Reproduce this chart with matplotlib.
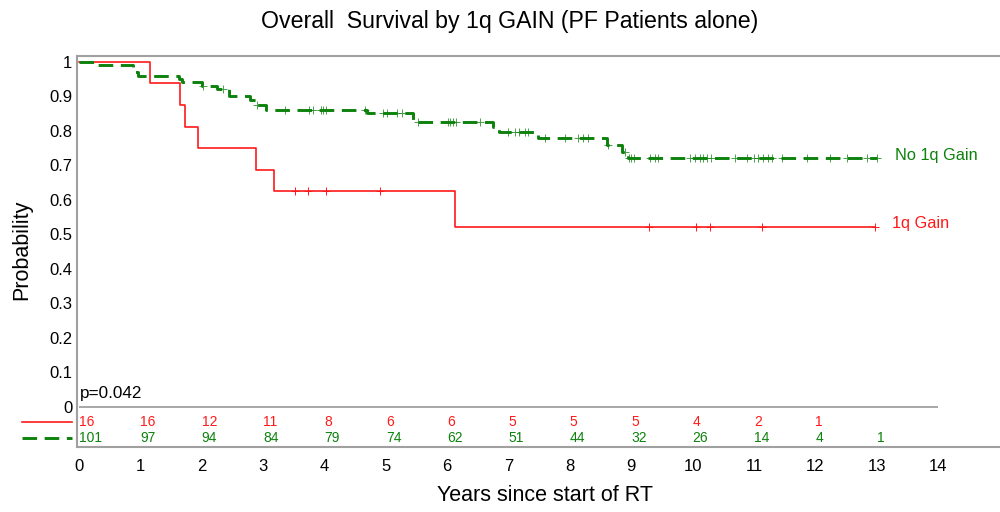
import numpy as np
import matplotlib
matplotlib.use("Agg")
import matplotlib.pyplot as plt

plt.rcParams["font.family"] = ["Liberation Sans", "DejaVu Sans"]

# Kaplan-Meier steps (years, survival after the step)
gain_t = [1.16, 1.65, 1.73, 1.94, 2.88, 3.18, 6.13]
gain_s = [0.9375, 0.875, 0.8125, 0.75, 0.6875, 0.625, 0.521]
gain_cens = [3.52, 3.73, 4.03, 4.9, 9.29, 10.06, 10.28, 11.13, 12.97]
gain_end = 12.97

nogain_t = [0.29, 0.88, 0.92, 0.96, 1.63, 1.68, 2.0, 2.25, 2.45, 2.78, 2.9, 3.05,
            4.7, 5.44, 6.75, 6.85, 7.48, 8.6, 8.85, 8.95]
nogain_s = [0.990, 0.980, 0.970, 0.960, 0.950, 0.943, 0.931, 0.920, 0.901, 0.890,
            0.875, 0.860, 0.852, 0.826, 0.810, 0.796, 0.780, 0.759, 0.739, 0.720]
nogain_cens = [2.02, 2.35, 2.9, 3.36, 3.75, 3.81, 3.94, 3.97, 4.02, 4.66, 4.95, 5.02,
               5.18, 5.26, 5.52, 6.01, 6.05, 6.1, 6.14, 6.53, 6.99, 7.1, 7.17, 7.27,
               7.32, 7.6, 7.92, 8.13, 8.21, 8.29, 8.62, 8.9, 8.97, 9.0, 9.05, 9.31,
               9.38, 9.43, 9.96, 10.04, 10.12, 10.17, 10.24, 10.3, 10.69, 10.89, 11.0,
               11.07, 11.15, 11.23, 11.29, 11.46, 11.87, 12.24, 12.52, 12.84, 13.0]
nogain_end = 13.0

# numbers at risk
risk_years = list(range(15))
gain_risk = [16, 16, 12, 11, 8, 6, 6, 5, 5, 5, 4, 2, 1]
nogain_risk = [101, 97, 94, 84, 79, 74, 62, 51, 44, 32, 26, 14, 4, 1]

RED = "#ff1a1a"
GREEN = "#0c820c"
GRAY = "#a0a0a0"


def km_arrays(t, s, end):
    x = np.r_[0, t, end]
    y = np.r_[1.0, s, s[-1]]
    return x, y


def surv_at(t, s, times):
    idx = np.searchsorted(t, times, side="right")
    vals = np.r_[1.0, s]
    return vals[idx]


fig = plt.figure(figsize=(10, 5.12), dpi=100)
ax = fig.add_axes([0.077, 0.127, 0.923, 0.7636])
ax.set_xlim(-0.033, 15.01)
ax.set_ylim(-0.116, 1.017)

x, y = km_arrays(gain_t, gain_s, gain_end)
ax.step(x, y, where="post", color=RED, lw=1.2, zorder=3)
ax.plot(gain_cens, surv_at(gain_t, gain_s, gain_cens), ls="none", marker="+",
        ms=6, mew=0.7, color=RED, zorder=3)

x, y = km_arrays(nogain_t, nogain_s, nogain_end)
ax.step(x, y, where="post", color=GREEN, lw=2.1, dashes=(5.0, 2.6), zorder=3)
ax.plot(nogain_cens, surv_at(nogain_t, nogain_s, nogain_cens), ls="none",
        marker="+", ms=6, mew=0.7, color=GREEN, alpha=0.75, zorder=3)

ax.text(13.3, nogain_s[-1] + 0.01, "No 1q Gain", color=GREEN, fontsize=11.8,
        va="center", ha="left")
ax.text(13.25, gain_s[-1] + 0.01, "1q Gain", color=RED, fontsize=11.8,
        va="center", ha="left")
ax.text(0.02, 0.018, "p=0.042", fontsize=12.3, ha="left", va="bottom")

# zero line separating the risk table
ax.hlines(0, 0, 14, color=GRAY, lw=1.3)

# risk table
row_red, row_green = -0.0435, -0.090
for yr, n in zip(risk_years, gain_risk):
    ax.text(yr, row_red, str(n), color=RED, fontsize=10, ha="left", va="center")
for yr, n in zip(risk_years, nogain_risk):
    ax.text(yr, row_green, str(n), color=GREEN, fontsize=10, ha="left", va="center")
ax.plot([-0.93, -0.11], [row_red, row_red], color=RED, lw=1.2, clip_on=False)
ax.plot([-0.93, -0.11], [row_green, row_green], color=GREEN, lw=2.1,
        dashes=(5.0, 2.6), clip_on=False)

ax.set_xticks(range(15))
ax.set_yticks(np.arange(0, 1.01, 0.1))
ax.set_yticklabels(["0"] + [f"{v:.1f}" for v in np.arange(0.1, 0.95, 0.1)] + ["1"])
ax.tick_params(axis="both", length=0, labelsize=12)
ax.tick_params(axis="x", pad=9)
ax.tick_params(axis="y", pad=3.5)

for side in ["top", "left", "bottom"]:
    ax.spines[side].set_color(GRAY)
    ax.spines[side].set_linewidth(1.5)
ax.spines["right"].set_visible(False)

ax.set_title("Overall  Survival by 1q GAIN (PF Patients alone)", fontsize=16.7,
             x=0.469, pad=20)
ax.set_xlabel("Years since start of RT", fontsize=15.5)
ax.set_ylabel("Probability", fontsize=15.5)
ax.xaxis.set_label_coords(0.507, -0.097)
ax.yaxis.set_label_coords(-0.048, 0.504)

fig.savefig("out.png", dpi=100)
